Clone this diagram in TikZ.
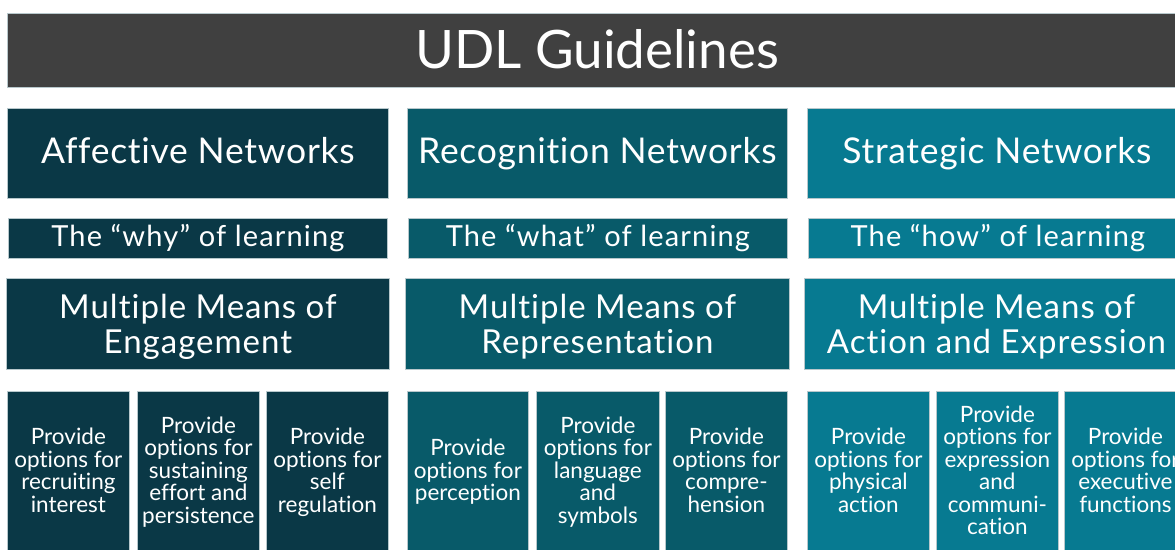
\documentclass[tikz,border=0pt]{standalone}
\usepackage{fontspec}
\setmainfont{Lato}[Ligatures=NoCommon]
\definecolor{titlegray}{HTML}{404040}
\definecolor{affective}{HTML}{0A3846}
\definecolor{recognition}{HTML}{085A69}
\definecolor{strategic}{HTML}{077A91}
\definecolor{edgegray}{HTML}{B8C8CC}
\tikzset{
  cell/.style={draw=edgegray, line width=0.8pt, inner sep=0pt, anchor=north west},
  words/.style={text=white, inner sep=0pt, align=center},
  % single-line captions sit on a baseline below the box centre
  titlewords/.style={words, anchor=base, yshift=-18pt, font=\fontsize{53}{60}\selectfont},
  networkwords/.style={words, anchor=base, yshift=-10.3pt,
    font=\fontsize{35.5}{40}\selectfont\addfontfeature{LetterSpace=2}},
  questionwords/.style={words, anchor=base, yshift=-8.3pt,
    font=\fontsize{29}{34}\selectfont\addfontfeature{LetterSpace=4}},
  % multi-line captions are centred on their line boxes
  principlewords/.style={words, yshift=-5.1pt,
    execute at begin node=\strut, execute at end node=\strut,
    font=\fontsize{33}{34.4}\selectfont\addfontfeature{LetterSpace=3}},
  guidelinewords/.style={words, yshift=-1pt,
    execute at begin node=\strut, execute at end node=\strut,
    font=\fontsize{22.5}{22.5}\selectfont},
  network/.style={cell, minimum width=380pt, minimum height=90pt},
  question/.style={cell, minimum width=379pt, minimum height=40pt},
  principle/.style={cell, minimum width=384pt, minimum height=91pt},
  guideline/.style={cell, minimum width=122pt, minimum height=162pt},
}
\begin{document}
\begin{tikzpicture}[x=1pt,y=-1pt]
\useasboundingbox (0,0) rectangle (1175,549);
\clip (0,0) rectangle (1175,549);
\fill[white] (0,0) rectangle (1175,549);

% Title bar
\node[cell, fill=titlegray, minimum width=1180pt, minimum height=74pt] (title) at (7,13) {};
\node[titlewords] (titletext) at (597,50) {UDL Guidelines};

% Affective networks column
\node[network, fill=affective, minimum width=381pt] (aff) at (7,108) {};
\node[question, fill=affective] (why) at (8,218) {};
\node[principle, fill=affective, minimum width=383pt] (eng) at (6,278) {};
\node[guideline, fill=affective] (g1) at (7,391) {};
\node[guideline, fill=affective] (g2) at (137,391) {};
\node[guideline, fill=affective] (g3) at (266,391) {};
\node[networkwords] (afftext) at (aff.center) {Affective Networks};
\node[questionwords] (whytext) at (why.center) {The “why” of learning};
\node[principlewords] (engtext) at (eng.center) {Multiple Means of\\Engagement};
\node[guidelinewords] (g1text) at (g1.center) {Provide\\options for\\recruiting\\interest};
\node[guidelinewords] (g2text) at (g2.center) {Provide\\options for\\sustaining\\effort and\\persistence};
\node[guidelinewords] (g3text) at (g3.center) {Provide\\options for\\self\\regulation};

% Recognition networks column
\node[network, fill=recognition] (rec) at (407,108) {};
\node[question, fill=recognition] (what) at (408,218) {};
\node[principle, fill=recognition] (rep) at (405,278) {};
\node[guideline, fill=recognition, minimum width=121pt] (g4) at (407,391) {};
\node[guideline, fill=recognition, minimum width=123pt] (g5) at (536,391) {};
\node[guideline, fill=recognition] (g6) at (665,391) {};
\node[networkwords] (rectext) at (rec.center) {Recognition Networks};
\node[questionwords] (whattext) at (what.center) {The “what” of learning};
\node[principlewords] (reptext) at (rep.center) {Multiple Means of\\Representation};
\node[guidelinewords] (g4text) at (g4.center) {Provide\\options for\\perception};
\node[guidelinewords] (g5text) at (g5.center) {Provide\\options for\\language\\and\\symbols};
\node[guidelinewords] (g6text) at (g6.center) {Provide\\options for\\compre-\\hension};

% Strategic networks column
\node[network, fill=strategic, minimum width=379pt] (str) at (807,108) {};
\node[question, fill=strategic] (how) at (808,218) {};
\node[principle, fill=strategic] (act) at (804,278) {};
\node[guideline, fill=strategic] (g7) at (807,391) {};
\node[guideline, fill=strategic] (g8) at (936,391) {};
\node[guideline, fill=strategic] (g9) at (1064,391) {};
\node[networkwords] (strtext) at (str.center) {Strategic Networks};
\node[questionwords] (howtext) at (how.center) {The “how” of learning};
\node[principlewords] (acttext) at (act.center) {Multiple Means of\\Action and Expression};
\node[guidelinewords] (g7text) at (g7.center) {Provide\\options for\\physical\\action};
\node[guidelinewords] (g8text) at (g8.center) {Provide\\options for\\expression\\and\\communi-\\cation};
\node[guidelinewords] (g9text) at (g9.center) {Provide\\options for\\executive\\functions};
\end{tikzpicture}
\end{document}
